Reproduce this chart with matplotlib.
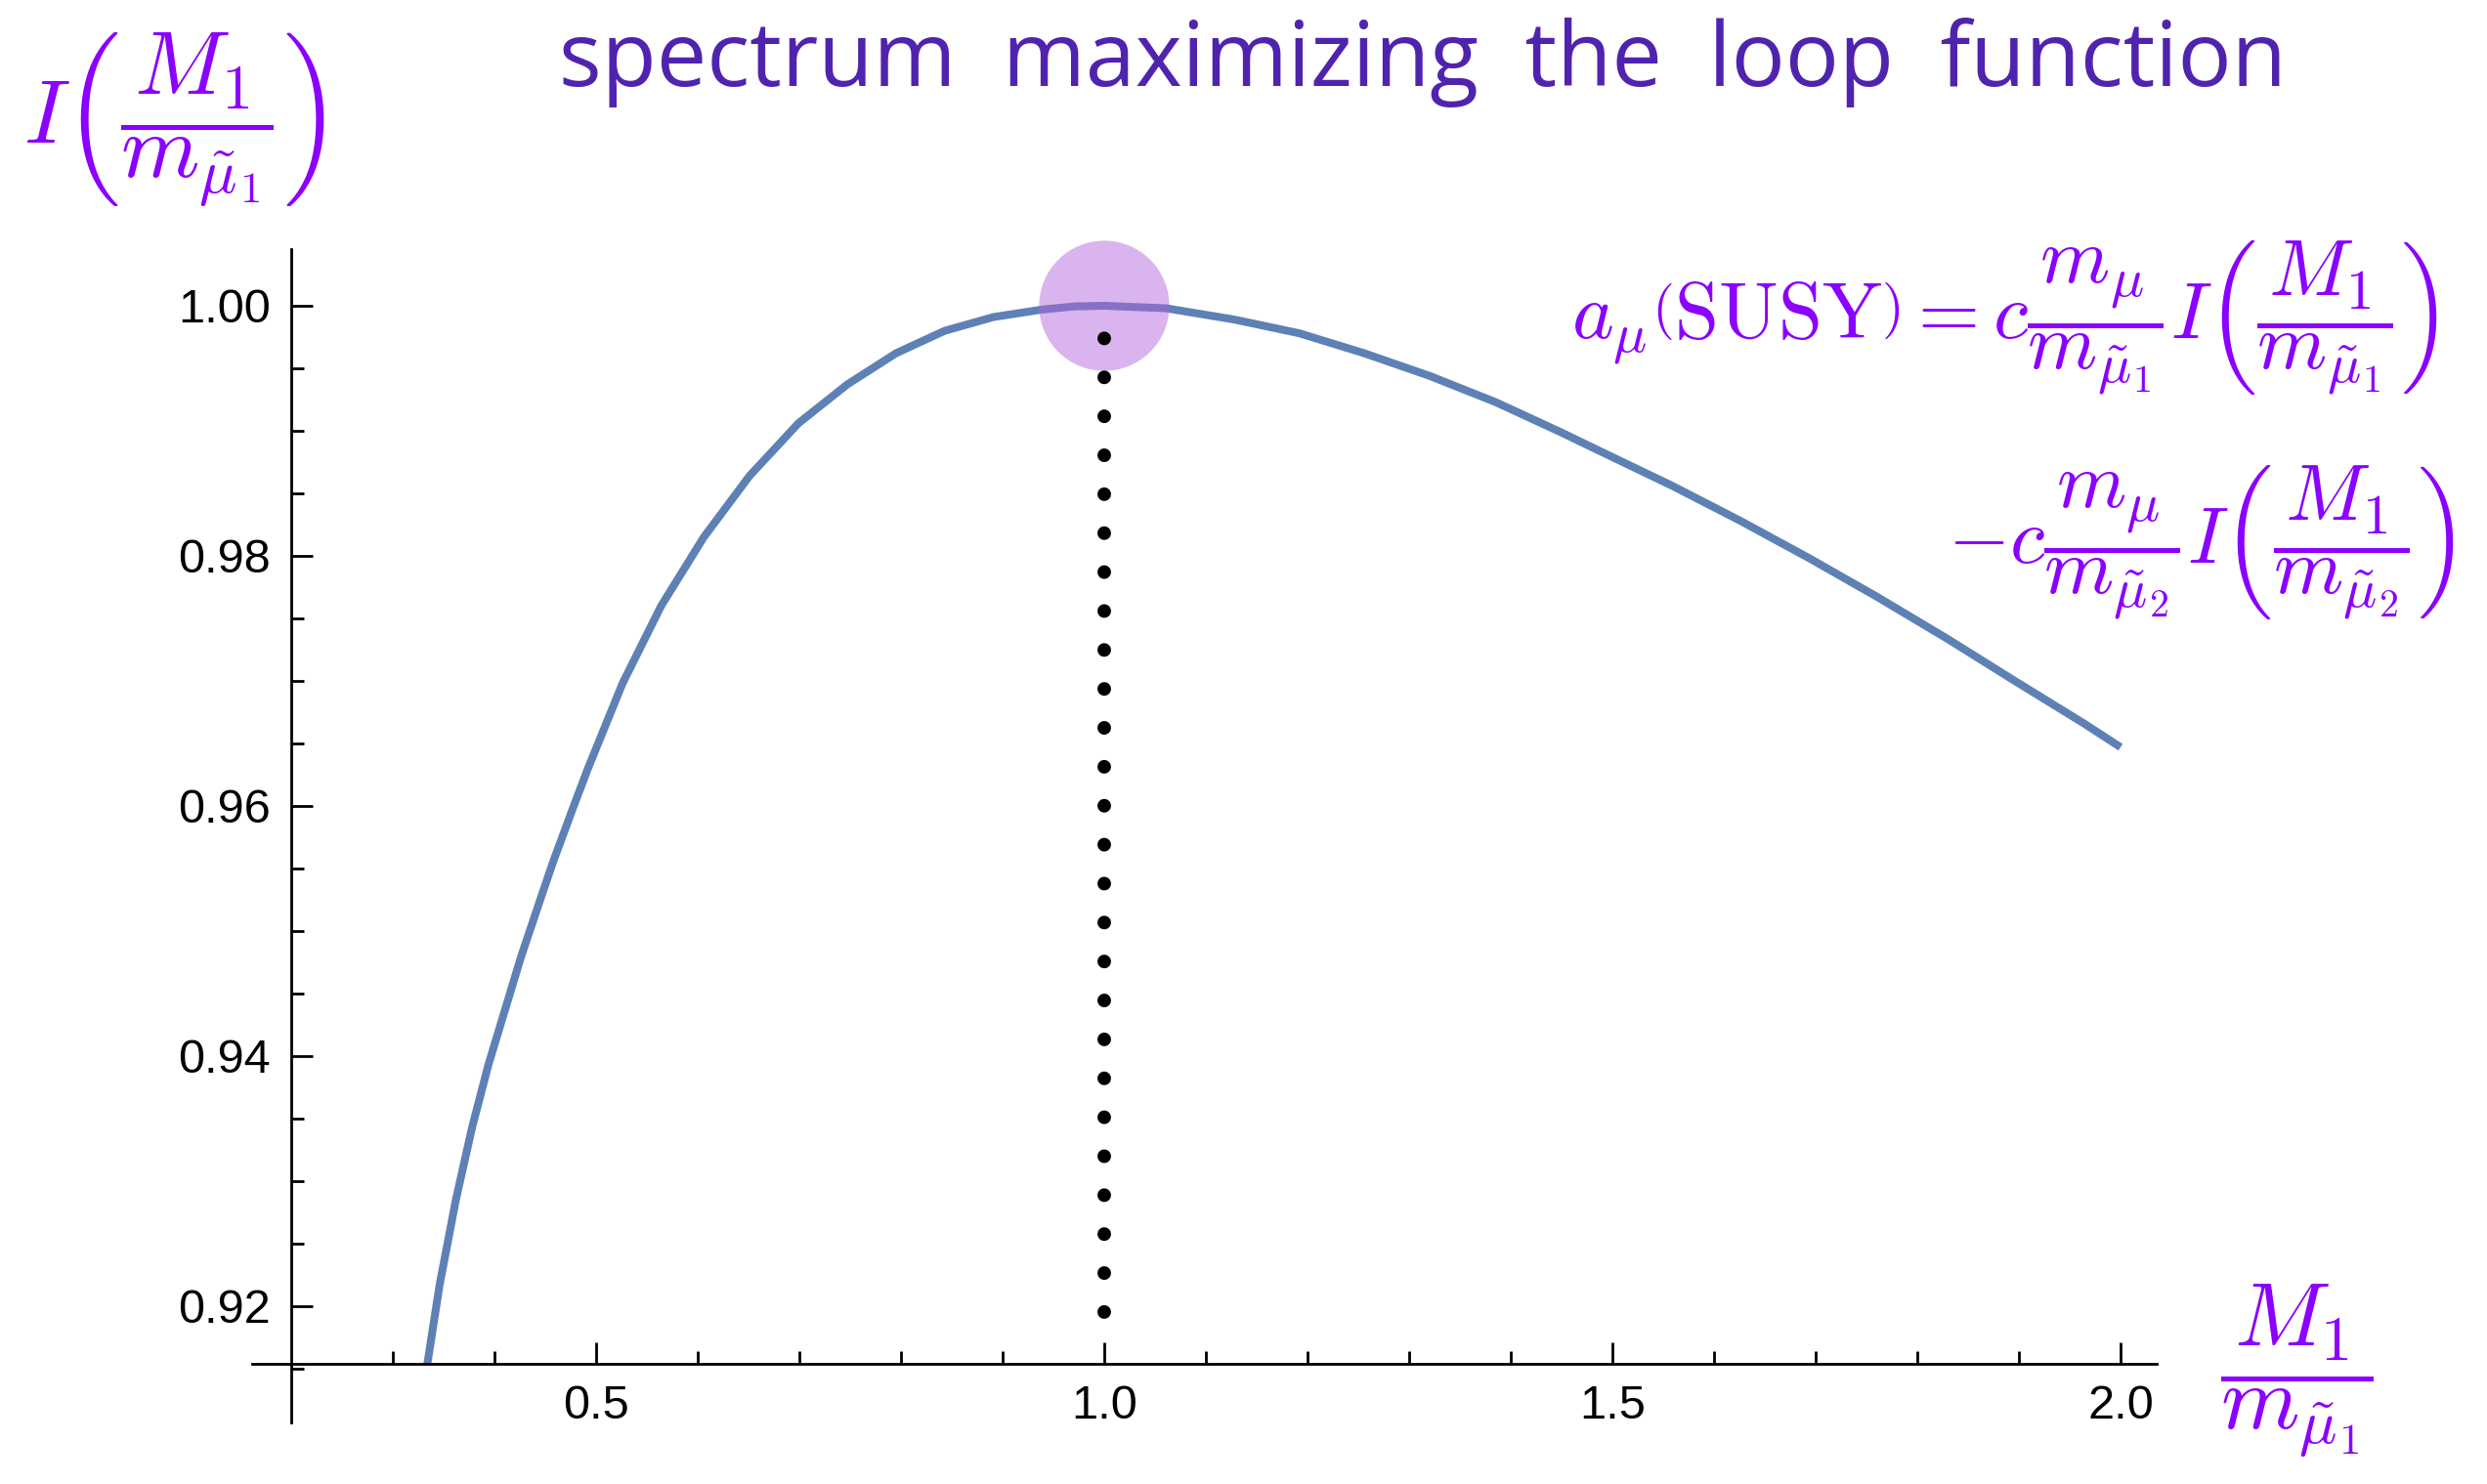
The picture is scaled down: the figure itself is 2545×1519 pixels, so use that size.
import matplotlib
matplotlib.use('Agg')
import matplotlib.pyplot as plt
from matplotlib.ticker import FixedLocator, NullFormatter

plt.rcParams['mathtext.fontset'] = 'cm'
plt.rcParams['font.family'] = ['Liberation Sans', 'DejaVu Sans']

# curve: ratio M1/m_smu1 and loop function I
ratio = [0.334, 0.346, 0.362, 0.378, 0.394, 0.410, 0.426, 0.445, 0.458, 0.478,
         0.492, 0.526, 0.564, 0.606, 0.651, 0.699, 0.747, 0.795, 0.843, 0.891,
         0.939, 0.971, 1.0, 1.061, 1.128, 1.192, 1.256, 1.320, 1.385, 1.449,
         1.500, 1.559, 1.626, 1.694, 1.761, 1.829, 1.896, 1.964, 2.0]
loop_I = [0.9154, 0.9217, 0.9285, 0.9343, 0.9393, 0.9436, 0.9479, 0.9525, 0.9556, 0.9600,
          0.9630, 0.9698, 0.9760, 0.9815, 0.9864, 0.9906, 0.9937, 0.9962, 0.9980, 0.9991,
          0.9997, 0.99995, 1.0, 0.9998, 0.9989, 0.9978, 0.9962, 0.9944, 0.9923, 0.9899,
          0.9879, 0.9856, 0.9828, 0.9798, 0.9767, 0.9734, 0.9700, 0.9666, 0.9647]

peak_x = 1.0
peak_y = 1.0
dots_y = [0.9195, 0.9977]

xticks = [0.5, 1.0, 1.5, 2.0]
xtick_labels = ['0.5', '1.0', '1.5', '2.0']
xminor = [0.3, 0.4, 0.6, 0.7, 0.8, 0.9, 1.1, 1.2, 1.3, 1.4, 1.6, 1.7, 1.8, 1.9]
yticks = [0.92, 0.94, 0.96, 0.98, 1.00]
ytick_labels = ['0.92', '0.94', '0.96', '0.98', '1.00']
yminor = [0.915, 0.925, 0.93, 0.935, 0.945, 0.95, 0.955, 0.965, 0.97, 0.975,
          0.985, 0.99, 0.995]

purple = '#8B00FF'
W, H = 2545, 1519

fig = plt.figure(figsize=(W / 100, H / 100), dpi=100)
# axes box in pixels: x 0.15..2.05 -> 246..2222, y 0.908..1.008 -> 1490.6..210.6
ax = fig.add_axes([246 / W, 1 - 1490.6 / H, (2222 - 246) / W, (1490.6 - 210.6) / H])
ax.set_xlim(0.15, 2.05)
ax.set_ylim(0.908, 1.008)

ax.plot(ratio, loop_I, color='#5E81B5', lw=5.8, solid_capstyle='butt',
        solid_joinstyle='round', zorder=2)
ax.scatter([peak_x], [peak_y], s=9200, color=(176/255, 98/255, 220/255), alpha=0.48,
           edgecolors='none', zorder=3)
ax.plot([peak_x, peak_x], dots_y, color='black', lw=10,
        linestyle=(0, (0.01, 2.86)), dash_capstyle='round', zorder=4)

for s in ['top', 'right']:
    ax.spines[s].set_visible(False)
ax.spines['left'].set_position(('data', 0.2))
ax.spines['bottom'].set_position(('data', 0.9154))
ax.spines['left'].set_bounds(0.9107, 1.0045)
ax.spines['bottom'].set_bounds(0.162, 2.036)
for s in ['left', 'bottom']:
    ax.spines[s].set_linewidth(2)

ax.xaxis.set_major_locator(FixedLocator(xticks))
ax.set_xticklabels(xtick_labels)
ax.xaxis.set_minor_locator(FixedLocator(xminor))
ax.yaxis.set_major_locator(FixedLocator(yticks))
ax.set_yticklabels(ytick_labels)
ax.yaxis.set_minor_locator(FixedLocator(yminor))
ax.yaxis.set_minor_formatter(NullFormatter())
ax.tick_params(which='major', direction='in', length=16, width=2, labelsize=35, pad=15)
ax.tick_params(which='minor', direction='in', length=9.5, width=2)

fig.text(1456 / W, 1 - 88 / H, 'spectrum  maximizing  the  loop  function',
         family=['Open Sans', 'DejaVu Sans'], fontsize=66, color='#5023AF',
         ha='center', va='baseline')

fig.text(178 / W, 1 - 122 / H, r'$I\left(\dfrac{M_1}{m_{\tilde{\mu}_1}}\right)$',
         fontsize=66, color=purple, ha='center', va='center')
fig.text(2350 / W, 1 - 1403 / H, r'$\dfrac{M_1}{m_{\tilde{\mu}_1}}$',
         fontsize=66, color=purple, ha='center', va='center')

fig.text(2495 / W, 1 - 325 / H,
         r'$a_\mu\left(\mathrm{SUSY}\right) = c\dfrac{m_\mu}{m_{\tilde{\mu}_1}}I\left(\dfrac{M_1}{m_{\tilde{\mu}_1}}\right)$',
         fontsize=58.5, color=purple, ha='right', va='center')
fig.text(2511 / W, 1 - 555 / H,
         r'$-c\dfrac{m_\mu}{m_{\tilde{\mu}_2}}I\left(\dfrac{M_1}{m_{\tilde{\mu}_2}}\right)$',
         fontsize=58.5, color=purple, ha='right', va='center')

fig.savefig('out.png', dpi=100)
